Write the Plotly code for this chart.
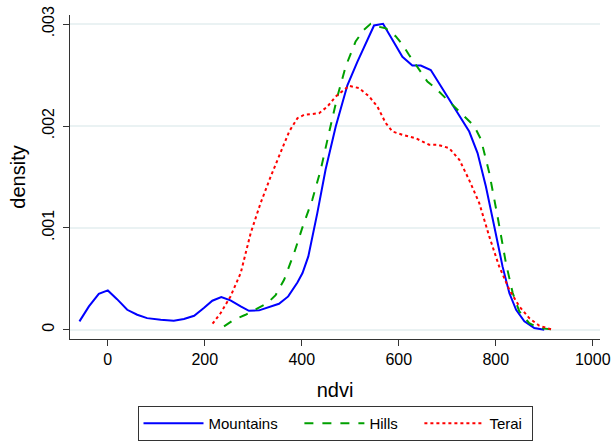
import plotly.graph_objects as go

mountains_x = [-58.5, -39, -18.6, 0, 19, 40, 60.6, 81, 109, 136, 157, 178, 198, 215.5, 234, 253, 274, 291, 312, 333, 353, 372, 391, 401.5, 413.5, 432, 449, 470, 494, 514.6, 531.8, 549, 567.6, 587, 607.5, 628, 645.4, 666, 683, 704, 725, 745.3, 762.5, 779.7, 797, 814, 828, 842, 859, 879.5, 900]
mountains_y = [0.082, 0.229, 0.353, 0.386, 0.30, 0.196, 0.147, 0.114, 0.098, 0.088, 0.105, 0.137, 0.213, 0.285, 0.32, 0.288, 0.229, 0.186, 0.19, 0.222, 0.255, 0.327, 0.464, 0.556, 0.72, 1.145, 1.57, 1.995, 2.40, 2.63, 2.81, 2.987, 3.003, 2.846, 2.68, 2.594, 2.594, 2.55, 2.42, 2.257, 2.094, 1.946, 1.734, 1.407, 1.014, 0.622, 0.36, 0.196, 0.082, 0.016, 0.0]

hills_x = [239.6, 260, 284, 308, 329, 346, 363.5, 384, 401, 421.7, 439, 456, 473.5, 490.5, 511, 528, 542, 556, 573, 594, 607.5, 621, 638.5, 659, 676, 697, 717.6, 738, 755.6, 769.4, 786.6, 803.8, 821, 835, 848.6, 869, 890, 921]
hills_y = [0.033, 0.098, 0.147, 0.203, 0.26, 0.34, 0.49, 0.75, 1.0, 1.276, 1.57, 1.93, 2.29, 2.584, 2.83, 2.944, 3.003, 2.977, 2.96, 2.88, 2.80, 2.70, 2.584, 2.437, 2.37, 2.27, 2.18, 2.08, 2.0, 1.87, 1.54, 1.11, 0.654, 0.36, 0.18, 0.065, 0.016, 0.0]

terai_x = [216, 232.7, 253, 274, 294.7, 315, 336, 356.6, 374, 391, 405, 418.6, 435.5, 452.7, 470, 497.6, 518, 539, 556, 573, 587, 607.5, 635, 662.5, 680, 704, 725, 745, 766, 786.6, 807, 828, 848.6, 869, 890, 917.5]
terai_y = [0.059, 0.164, 0.327, 0.556, 0.95, 1.243, 1.505, 1.734, 1.946, 2.077, 2.11, 2.116, 2.126, 2.19, 2.29, 2.395, 2.372, 2.29, 2.19, 2.03, 1.946, 1.914, 1.88, 1.816, 1.816, 1.783, 1.668, 1.472, 1.243, 0.916, 0.622, 0.393, 0.229, 0.114, 0.039, 0.0]

x_ticks = [0, 200, 400, 600, 800, 1000]
y_ticks = [0, 0.001, 0.002, 0.003]
y_tick_labels = ["0", ".001", ".002", ".003"]

FONT = "Liberation Sans, Arial, sans-serif"
NB = "\u00a0"

fig = go.Figure()
fig.add_trace(go.Scatter(x=mountains_x, y=[v / 1000 for v in mountains_y], mode="lines",
                         name="Mountains" + NB * 4, line=dict(color="#0000ff", width=2)))
fig.add_trace(go.Scatter(x=hills_x, y=[v / 1000 for v in hills_y], mode="lines",
                         name="Hills" + NB * 4, line=dict(color="#00a000", width=2, dash="dash")))
fig.add_trace(go.Scatter(x=terai_x, y=[v / 1000 for v in terai_y], mode="lines",
                         name="Terai" + NB, line=dict(color="#ff0000", width=2, dash="dot")))

fig.update_layout(
    width=611, height=442,
    margin=dict(l=70, r=11, t=15, b=103, autoexpand=False),
    paper_bgcolor="white", plot_bgcolor="white",
    font=dict(family=FONT, color="black", size=16),
    showlegend=True,
    legend=dict(orientation="h", x=0.5, xanchor="center", xref="paper",
                yref="container", y=0.002, yanchor="bottom",
                bordercolor="#333333", borderwidth=1,
                font=dict(size=15), traceorder="normal",
                itemwidth=60),
)
fig.update_xaxes(
    range=[-78, 1015], tickvals=x_ticks, ticks="outside", ticklen=6,
    tickcolor="#333333", showline=True, linecolor="#333333", linewidth=1,
    showgrid=False, zeroline=False, tickfont=dict(size=16), automargin=False,
    ticklabeloverflow="allow",
    title=dict(text="ndvi", font=dict(size=20), standoff=15),
)
fig.update_yaxes(
    range=[-0.000091, 0.00309], tickvals=y_ticks, ticktext=y_tick_labels,
    tickangle=-90, ticks="outside", ticklen=6, tickcolor="#333333",
    showline=True, linecolor="#333333", linewidth=1,
    showgrid=True, gridcolor="#eaf2f3", gridwidth=1.5, zeroline=False,
    tickfont=dict(size=16), automargin=False, ticklabelstandoff=3,
    ticklabeloverflow="allow",
    title=dict(text="density", font=dict(size=20), standoff=8),
)

fig.write_html("out.html", config={"displayModeBar": False},
               post_script="document.body.style.margin='0';")
